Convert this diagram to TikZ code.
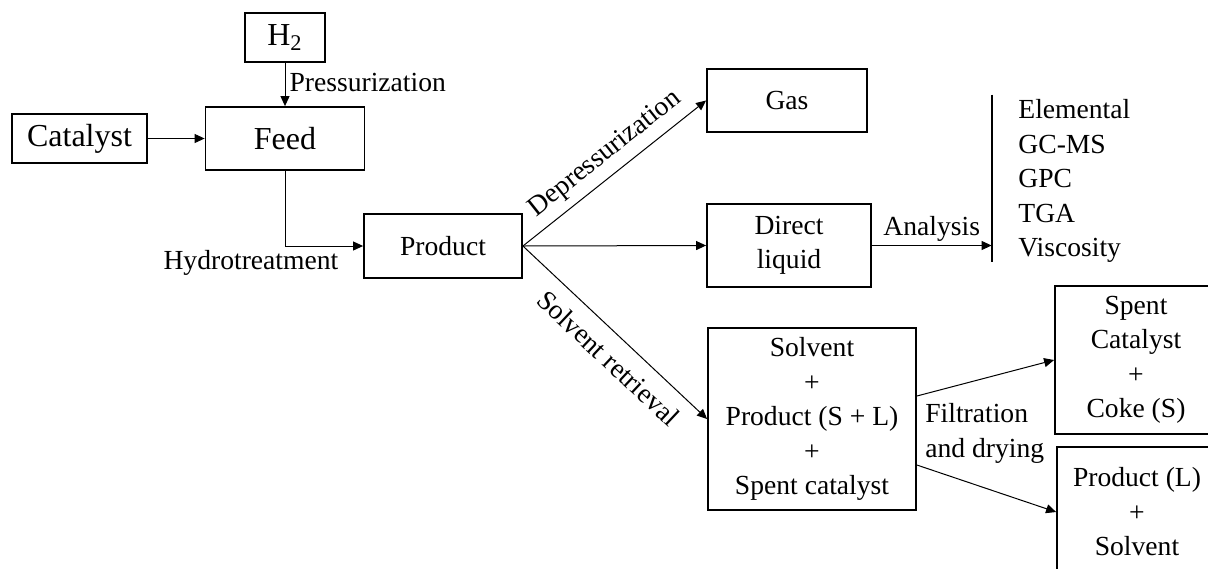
\documentclass[tikz,border=0pt]{standalone}
\usepackage{fontspec}
\setmainfont{Liberation Serif}
\usepackage{tikz}
\usetikzlibrary{arrows.meta,calc}
\newcommand{\bigtxt}{\fontsize{16}{19}\selectfont}
\newcommand{\smalltxt}{\fontsize{13.8}{17.25}\selectfont}
\tikzset{
  box/.style={draw,line width=0.9pt,inner sep=0pt,font=\smalltxt,align=center},
  bigbox/.style={box,font=\bigtxt},
  note/.style={font=\smalltxt,inner sep=2pt},
  arr/.style={-{Triangle[length=5pt,width=4.5pt]},line width=0.5pt},
}

\begin{document}
\begin{tikzpicture}[x=0.5pt,y=-0.5pt]
\clip (0,0) rectangle (1208,568);
\node[bigbox,minimum width=40pt,minimum height=24.5pt] (h2) at (285,37.5) {H\textsubscript{2}};
\node[bigbox,minimum width=67.5pt,minimum height=24.5pt] (cat) at (79.5,138.5) {Catalyst};
\node[bigbox,minimum width=79.5pt,minimum height=31.5pt] (feed) at (285,138.5) {Feed};
\node[box,minimum width=79pt,minimum height=32pt] (prod) at (443,246) {Product};
\node[box,minimum width=80pt,minimum height=31.5pt] (gas) at (787,100.5) {Gas};
\node[box,minimum width=82pt,minimum height=41.5pt] (liq) at (789,245.5) {Direct\\liquid};
\node[box,minimum width=104pt,minimum height=91pt] (mix) at (812,419) {Solvent\\+\\Product (S + L)\\+\\Spent catalyst};
\node[box,minimum width=81pt,minimum height=74pt] (coke) at (1136,360) {Spent\\Catalyst\\+\\Coke (S)};
\node[box,minimum width=80pt,minimum height=65pt] (prodl) at (1137,512) {Product (L)\\+\\Solvent};
\node[inner sep=0pt,minimum width=0pt,minimum height=83.5pt] (bar) at (992,178.5) {};
\node[note,align=left,anchor=west] (tests) at (1014,181) {Elemental\\GC-MS\\GPC\\TGA\\Viscosity};
% feed side
\draw[arr] (h2) -- node[note,right,pos=0.45]{Pressurization} (feed);
\draw[arr] (cat) -- (feed);
\draw[arr] (feed.south) |- node[note,anchor=north east,pos=0.87]{Hydrotreatment} (prod.west);
% product split
\draw[arr] (prod.east) -- node[note,sloped,above=2pt,pos=0.52]{Depressurization} (gas.west);
\draw[arr] (prod.east) -- (liq.west);
\draw[arr] (prod.east) -- node[note,sloped,below=4.5pt,pos=0.55]{Solvent retrieval} (mix.west);
\draw[arr] (liq.east) -- node[note,above]{Analysis} (liq.east -| bar.west);
\draw[line width=0.9pt] (bar.north) -- (bar.south);
% filtration
\draw[arr] ([yshift=11.5pt]mix.east) -- (coke.west);
\draw[arr] ([yshift=-23pt]mix.east) -- (prodl.west);
\node[note,align=left,anchor=west] (filt) at ([xshift=2pt,yshift=-7.25pt]mix.east) {Filtration\\and drying};
\end{tikzpicture}
\end{document}
